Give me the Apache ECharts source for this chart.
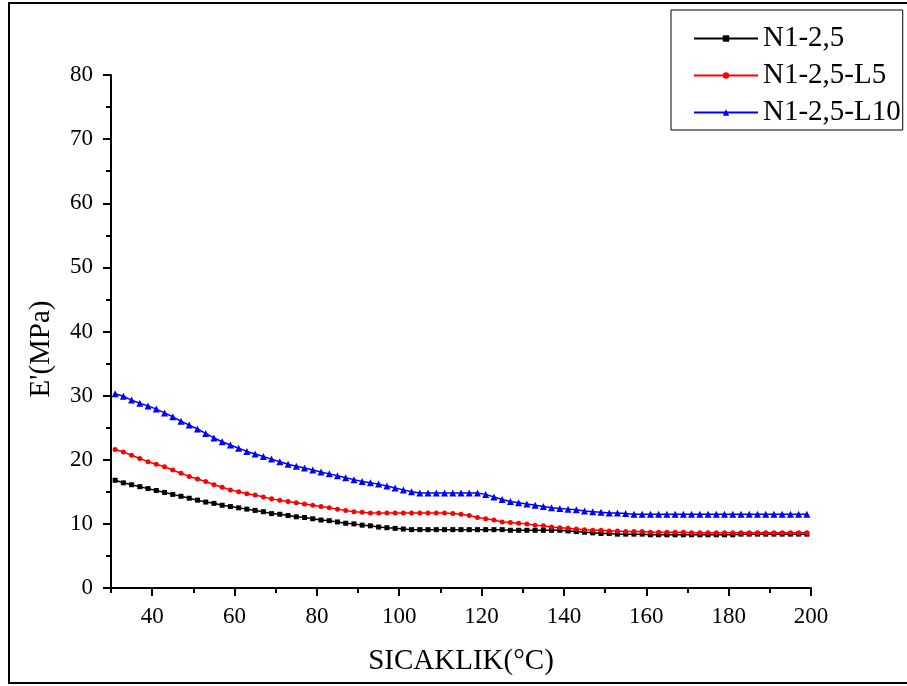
<!DOCTYPE html>
<html>
<head>
<meta charset="utf-8">
<script src="https://cdn.jsdelivr.net/npm/echarts@6/dist/echarts.min.js"></script>
<style>
  html, body { margin: 0; padding: 0; background: #fff; }
  #chart { width: 907px; height: 686px; }
</style>
</head>
<body>
<div id="chart"></div>
<script>
// Temperature (°C) sampling points
const temperature = [31, 33, 35, 37, 39, 41, 43, 45, 47, 49, 51, 53, 55, 57, 59, 61, 63, 65, 67, 69,
  71, 73, 75, 77, 79, 81, 83, 85, 87, 89, 91, 93, 95, 97, 99, 101, 103, 105, 107, 109,
  111, 113, 115, 117, 119, 121, 123, 125, 127, 129, 131, 133, 135, 137, 139, 141, 143, 145, 147, 149,
  151, 153, 155, 157, 159, 161, 163, 165, 167, 169, 171, 173, 175, 177, 179, 181, 183, 185, 187, 189,
  191, 193, 195, 197, 199];

// Storage modulus E' (MPa) per sample
const n1_25 = [16.8, 16.4, 16.1, 15.8, 15.5, 15.2, 14.9, 14.6, 14.3, 14.0, 13.7, 13.4, 13.2, 12.9, 12.7, 12.5, 12.3, 12.1, 11.9, 11.6,
  11.5, 11.3, 11.1, 11.0, 10.8, 10.6, 10.5, 10.3, 10.1, 10.0, 9.8, 9.7, 9.5, 9.4, 9.3, 9.2, 9.1, 9.1, 9.1, 9.1,
  9.1, 9.1, 9.1, 9.1, 9.1, 9.1, 9.1, 9.1, 9.0, 9.0, 9.0, 9.0, 9.0, 9.0, 9.0, 8.9, 8.8, 8.7, 8.6, 8.5,
  8.5, 8.4, 8.4, 8.4, 8.4, 8.3, 8.3, 8.3, 8.3, 8.3, 8.3, 8.3, 8.3, 8.3, 8.3, 8.3, 8.4, 8.4, 8.4, 8.4,
  8.4, 8.4, 8.4, 8.4, 8.4];

const n1_25_L5 = [21.6, 21.2, 20.7, 20.2, 19.7, 19.3, 18.9, 18.4, 17.9, 17.4, 17.0, 16.6, 16.1, 15.7, 15.3, 15.0, 14.7, 14.5, 14.2, 13.9,
  13.7, 13.5, 13.3, 13.1, 12.9, 12.7, 12.5, 12.3, 12.1, 11.9, 11.8, 11.7, 11.7, 11.7, 11.7, 11.7, 11.7, 11.7, 11.7, 11.7,
  11.7, 11.6, 11.5, 11.3, 11.0, 10.8, 10.6, 10.3, 10.2, 10.1, 10.0, 9.8, 9.7, 9.5, 9.4, 9.3, 9.2, 9.1, 9.0, 9.0,
  8.9, 8.9, 8.8, 8.8, 8.8, 8.7, 8.7, 8.7, 8.7, 8.7, 8.6, 8.6, 8.6, 8.6, 8.6, 8.6, 8.6, 8.6, 8.6, 8.6,
  8.6, 8.6, 8.6, 8.6, 8.6];

const n1_25_L10 = [30.3, 29.9, 29.3, 28.8, 28.4, 27.9, 27.3, 26.7, 26.0, 25.4, 24.8, 24.1, 23.4, 22.8, 22.3, 21.8, 21.3, 20.9, 20.5, 20.1,
  19.7, 19.3, 19.0, 18.7, 18.4, 18.1, 17.8, 17.5, 17.2, 16.9, 16.6, 16.4, 16.2, 15.9, 15.6, 15.3, 15.0, 14.8, 14.8, 14.8,
  14.8, 14.8, 14.8, 14.8, 14.8, 14.6, 14.2, 13.8, 13.5, 13.3, 13.1, 12.9, 12.7, 12.5, 12.4, 12.3, 12.2, 12.0, 11.9, 11.8,
  11.7, 11.7, 11.6, 11.5, 11.5, 11.5, 11.5, 11.5, 11.5, 11.5, 11.5, 11.5, 11.5, 11.5, 11.5, 11.5, 11.5, 11.5, 11.5, 11.5,
  11.5, 11.5, 11.5, 11.5, 11.5];

const seriesNames = ['N1-2,5', 'N1-2,5-L5', 'N1-2,5-L10'];
const xMajorTicks = [40, 60, 80, 100, 120, 140, 160, 180, 200];
const xMinorTicks = [30, 50, 70, 90, 110, 130, 150, 170, 190];
const xTitle = 'SICAKLIK(°C)';
const yTitle = "E'(MPa)";

const FONT = '"Liberation Serif", "Times New Roman", serif';

const pair = (xs, ys) => xs.map((x, i) => [x, ys[i]]);

const chart = echarts.init(document.getElementById('chart'), null, { renderer: 'canvas' });

const lineSeries = (name, values, color, symbol, size) => ({
  name: name,
  type: 'line',
  xAxisIndex: 0,
  data: pair(temperature, values),
  symbol: symbol,
  symbolSize: size,
  showAllSymbol: true,
  lineStyle: { color: color, width: 1.5 },
  itemStyle: { color: color },
  emphasis: { disabled: true },
  animation: false
});

chart.setOption({
  backgroundColor: '#fff',
  animation: false,
  grid: { left: 111, right: 96, top: 75, bottom: 98, containLabel: false },
  xAxis: [
    {
      type: 'value', min: 30, max: 200,
      name: xTitle, nameLocation: 'middle', nameGap: 59,
      nameTextStyle: { fontFamily: FONT, fontSize: 29, color: '#000' },
      axisLine: { show: true, lineStyle: { color: '#000', width: 2 } },
      axisTick: { show: true, customValues: xMajorTicks, length: 8, lineStyle: { color: '#000', width: 2 } },
      axisLabel: { show: true, customValues: xMajorTicks, margin: 17, fontFamily: FONT, fontSize: 23, color: '#000' },
      splitLine: { show: false }
    },
    {
      type: 'value', min: 30, max: 200, position: 'bottom',
      axisLine: { show: false },
      axisTick: { show: true, customValues: xMinorTicks, length: 5, lineStyle: { color: '#000', width: 2 } },
      axisLabel: { show: false },
      splitLine: { show: false }
    }
  ],
  yAxis: {
    type: 'value', min: 0, max: 80, interval: 10,
    axisLine: { show: true, lineStyle: { color: '#000', width: 2 } },
    axisTick: { show: true, length: 8, lineStyle: { color: '#000', width: 2 } },
    minorTick: { show: true, splitNumber: 2, length: 5, lineStyle: { color: '#000', width: 2 } },
    axisLabel: { margin: 18, fontFamily: FONT, fontSize: 23, color: '#000' },
    splitLine: { show: false }
  },
  legend: {
    orient: 'vertical',
    left: 671, top: 10,
    padding: [14, 2, 3, 22],
    itemGap: 8,
    itemWidth: 64, itemHeight: 8,
    borderColor: '#000', borderWidth: 1,
    textStyle: { fontFamily: FONT, fontSize: 29, color: '#000' },
    data: seriesNames
  },
  graphic: [
    {
      type: 'rect', silent: true, z: -1,
      shape: { x: 9, y: 3, width: 920, height: 680 },
      style: { fill: null, stroke: '#000', lineWidth: 2 }
    },
    {
      type: 'text', silent: true,
      x: 41, y: 349, rotation: Math.PI / 2,
      style: {
        text: yTitle, fontFamily: FONT, fontSize: 29, fill: '#000',
        align: 'center', verticalAlign: 'middle'
      }
    }
  ],
  series: [
    lineSeries(seriesNames[0], n1_25, '#000000', 'rect', 5),
    lineSeries(seriesNames[1], n1_25_L5, '#ff0000', 'circle', 5),
    lineSeries(seriesNames[2], n1_25_L10, '#0000ff', 'triangle', 7)
  ]
});
</script>
</body>
</html>
